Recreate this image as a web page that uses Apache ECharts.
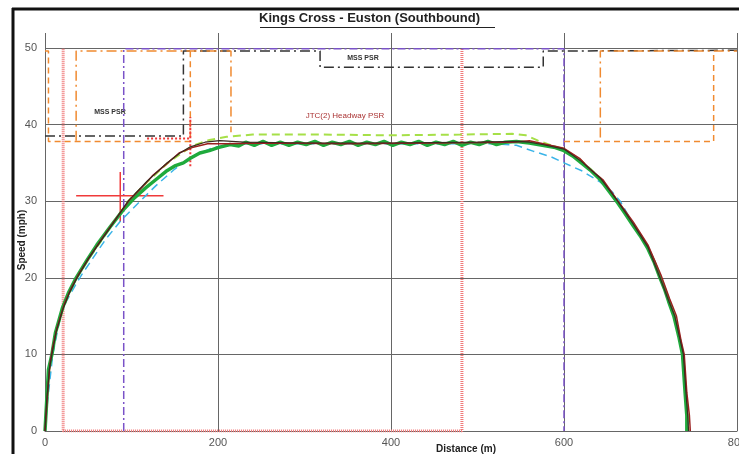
<!DOCTYPE html>
<html>
<head>
<meta charset="utf-8">
<script src="https://cdn.jsdelivr.net/npm/echarts@6/dist/echarts.min.js"></script>
<style>
  html, body { margin: 0; padding: 0; background: #fff; }
  #chart { width: 739px; height: 454px; }
</style>
</head>
<body>
<div id="chart"></div>
<script>
  // distance (m) / speed (mph) points
  var blackRun = [[0,0],[2,4],[5,8],[8,10],[13,13],[21,16],[28,18],[37,20],[50,22.5],[63,24.6],[78,27],[96,30],[118,32.6],[141,35],[156,36.3],[168,37.1],[185,37.7],[202,37.9],[230,37.7],[300,37.6],[400,37.6],[500,37.7],[545,37.8],[560,37.7],[575,37.4],[600,36.8],[620,35.2],[642,33],[662,30],[680,27],[697,24],[711,20],[721,17],[728,15],[734,12],[738,10],[741,5],[743,2],[744,0]];
  var redRun = [[0,0],[3,5],[6,9],[9,11],[14,13.5],[22,16.5],[30,18.6],[38,20.3],[52,22.8],[64,24.8],[80,27.4],[98,30.2],[112,31.8],[124,33.3],[140,34.8],[155,36.3],[170,37],[188,37.5],[210,37.5],[260,37.6],[350,37.5],[450,37.6],[540,37.7],[560,37.9],[580,37.4],[600,36.9],[618,35.6],[630,34.2],[645,32.8],[660,30.4],[680,27.3],[697,24.3],[712,20.4],[722,17.3],[730,15],[735,12],[739,10],[742,5],[745,2],[746,0]];
  var limeRun = [[0,0],[2,4],[5,8],[8,10],[13,13],[21,16],[28,18],[37,20],[50,22.4],[63,24.5],[78,27],[96,30],[118,32.5],[141,34.9],[158,36.3],[172,37.3],[190,38],[210,38.4],[240,38.7],[320,38.7],[400,38.6],[480,38.7],[540,38.8],[556,38.6],[570,37.9],[585,37.3],[600,36.8],[620,35.3],[642,33],[662,30],[680,27],[697,24],[711,20],[721,17],[728,15],[734,12],[738,10],[741,5],[743,2],[744,0]];
  var cyanRun = [[0,0],[3,4],[6,7],[9,10],[14,12.8],[18,15],[25,17],[35,19],[43,20.5],[55,22.5],[70,25],[88,27.5],[110,30],[128,32],[150,34.2],[170,35.8],[194,37],[220,37.5],[300,37.5],[400,37.5],[520,37.5],[545,37.3],[565,36.5],[585,35.8],[600,35],[620,34],[642,32.5],[655,31.3],[665,30],[680,27],[697,24],[711,20],[721,17],[728,15],[734,12],[738,10],[741,5],[743,2],[744,0]];
  var greenRun = [[0,0],[2,4],[4,8],[8,10],[12,12.8],[20,16],[27,18],[36,20],[48,22.2],[60,24.3],[75,26.6],[90,28.8],[104,30.5],[116,31.7],[128,32.8],[140,33.9],[150,34.6],[160,35],[168,35.6],[179,36.3],[190,36.6],[200,37],[214,37.4],[224,37.2],[232,37.7],[242,37.3],[252,37.8],[262,37.3],[272,37.7],[282,37.3],[292,37.7],[302,37.4],[312,37.8],[322,37.3],[332,37.7],[342,37.4],[352,37.8],[362,37.3],[372,37.7],[382,37.4],[392,37.8],[402,37.3],[412,37.7],[422,37.4],[432,37.8],[442,37.3],[452,37.7],[462,37.4],[472,37.8],[482,37.3],[492,37.7],[502,37.4],[512,37.8],[522,37.4],[532,37.7],[545,37.8],[560,37.6],[575,37.3],[590,37],[600,36.6],[610,35.9],[620,35],[630,34.1],[642,32.8],[652,31.3],[662,29.8],[670,28.5],[680,26.8],[688,25.5],[697,23.8],[704,22.1],[711,20],[716,18.6],[721,16.9],[727,15],[733,12.2],[737,10],[740,5],[742,2],[742,0]];

  // restriction outlines
  var orangeBoxA = [[0,49.6],[4,49.6],[4,37.8],[168,37.8],[168,49.6]];
  var orangeBoxB = [[36,37.9],[36,49.6],[215,49.6],[215,39]];
  var orangeBoxC = [[600,37.8],[773,37.8],[773,49.6]];
  var orangeBoxD = [[642,38.3],[642,49.6],[800,49.6]];
  var mssPsr = [[0,38.5],[160,38.5],[160,49.6],[318,49.6],[318,47.5],[576,47.5],[576,49.6],[800,49.7]];
  var purpleBox = [[91,0],[91,49.9],[600,49.9],[600,0]];
  var headwayBox = [[21,49.9],[21,0],[482,0],[482,49.9]];
  var jtcPsr = [[118,38.2],[168,38.2],[168,41],[168,34.5]];
  var crossH = [[36,30.7],[137,30.7]];
  var crossV = [[87,33.8],[87,27.3]];

  var xTicks = { min: 0, max: 800, step: 200 };
  var yTicks = { min: 0, max: 50, step: 10 };

  function outline(name, data, color, width, type, z) {
    return {
      name: name, type: 'line', data: data, showSymbol: false, symbol: 'none',
      silent: true, animation: false, z: z || 2,
      lineStyle: { color: color, width: width, type: type }
    };
  }

  var chart = echarts.init(document.getElementById('chart'));
  chart.setOption({
    backgroundColor: '#fff',
    animation: false,
    grid: [
      { left: 45, right: 2, top: 48, bottom: 23, outerBoundsMode: 'none', containLabel: false },
      { left: 45, right: 2, top: 33, height: 15, outerBoundsMode: 'none', containLabel: false }
    ],
    xAxis: [
      {
        type: 'value', gridIndex: 0, min: xTicks.min, max: xTicks.max, interval: xTicks.step,
        axisLine: { lineStyle: { color: '#666' } },
        axisTick: { show: false },
        axisLabel: { color: '#555', fontSize: 11, margin: 6, fontFamily: 'Liberation Sans' },
        splitLine: { lineStyle: { color: '#666', width: 1 } }
      },
      {
        type: 'value', gridIndex: 1, min: xTicks.min, max: xTicks.max, interval: xTicks.step,
        axisLine: { show: false }, axisTick: { show: false }, axisLabel: { show: false },
        splitLine: { lineStyle: { color: '#666', width: 1 } }
      }
    ],
    yAxis: [
      {
        type: 'value', gridIndex: 0, min: yTicks.min, max: yTicks.max, interval: yTicks.step,
        axisLine: { show: true, lineStyle: { color: '#666' } },
        axisTick: { show: false },
        axisLabel: { color: '#555', fontSize: 11, margin: 8, fontFamily: 'Liberation Sans' },
        splitLine: { lineStyle: { color: '#666', width: 1 } }
      },
      {
        type: 'value', gridIndex: 1, min: 50, max: 52,
        axisLine: { show: false }, axisTick: { show: false }, axisLabel: { show: false },
        splitLine: { show: false }
      }
    ],
    series: [
      outline('Headway', headwayBox, '#f07a7a', 3, [1, 1], 1),
      outline('Purple', purpleBox, '#7a52c8', 1.5, [8, 3, 2, 3], 2),
      outline('MSS PSR', mssPsr, '#333', 1.5, [10, 4, 2, 4], 3),
      outline('Orange A', orangeBoxA, '#f08a30', 1.5, [6, 4], 3),
      outline('Orange B', orangeBoxB, '#f08a30', 1.5, [10, 4, 2, 4], 3),
      outline('Orange C', orangeBoxC, '#f08a30', 1.5, [6, 4], 3),
      outline('Orange D', orangeBoxD, '#f08a30', 1.5, [10, 4, 2, 4], 3),
      outline('JTC(2) Headway PSR', jtcPsr, '#f03a3a', 2, [2, 2], 3),
      outline('Cross H', crossH, '#f03a3a', 1.5, 'solid', 4),
      outline('Cross V', crossV, '#f03a3a', 1.5, 'solid', 4),
      outline('Cyan', cyanRun, '#3ab4e8', 1.5, [8, 5], 5),
      outline('Lime', limeRun, '#a6e048', 2, [8, 5], 5),
      outline('Green', greenRun, '#1faa3c', 3.5, 'solid', 6),
      outline('Red', redRun, '#9a1f1f', 1.5, 'solid', 7),
      outline('Black', blackRun, '#3a2a20', 1.2, 'solid', 7)
    ],
    graphic: [
      { type: 'line', shape: { x1: 12, y1: 9, x2: 739, y2: 9 }, style: { stroke: '#111', lineWidth: 3 } },
      { type: 'line', shape: { x1: 13, y1: 8, x2: 13, y2: 454 }, style: { stroke: '#111', lineWidth: 3 } },
      { type: 'text', left: 'center', top: 12, style: { text: 'Kings Cross - Euston (Southbound)', font: 'bold 13px "Liberation Sans"', fill: '#222' } },
      { type: 'line', shape: { x1: 260, y1: 27.5, x2: 495, y2: 27.5 }, style: { stroke: '#222', lineWidth: 1 } },
      { type: 'text', x: 22, y: 240, rotation: Math.PI / 2, style: { text: 'Speed (mph)', font: 'bold 10px "Liberation Sans"', fill: '#222', align: 'center', verticalAlign: 'middle' } },
      { type: 'text', x: 466, y: 449, style: { text: 'Distance (m)', font: 'bold 10px "Liberation Sans"', fill: '#222', align: 'center', verticalAlign: 'middle' } },
      { type: 'text', x: 110, y: 112, style: { text: 'MSS PSR', font: 'bold 7px "Liberation Sans"', fill: '#333', align: 'center', verticalAlign: 'middle' } },
      { type: 'text', x: 363, y: 58, style: { text: 'MSS PSR', font: 'bold 7px "Liberation Sans"', fill: '#333', align: 'center', verticalAlign: 'middle' } },
      { type: 'text', x: 345, y: 116, style: { text: 'JTC(2) Headway PSR', font: '8px "Liberation Sans"', fill: '#a33', align: 'center', verticalAlign: 'middle' } }
    ]
  });
</script>
</body>
</html>
